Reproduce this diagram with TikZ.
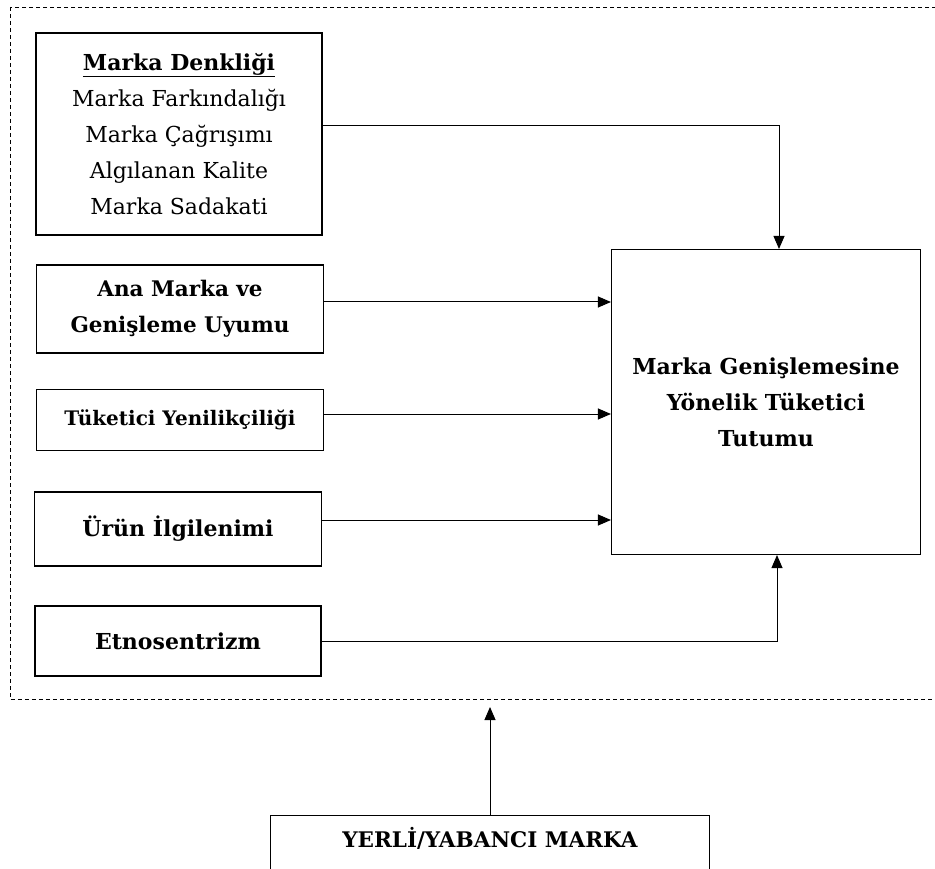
\documentclass[tikz,border=0pt]{standalone}
\usepackage{fontspec}
\setmainfont{DejaVu Serif}
\usetikzlibrary{arrows.meta}

\tikzset{
  box/.style={draw, line width=1.1pt, align=center, inner sep=4pt},
  arr/.style={line width=1pt, -{Triangle[length=13pt,width=11pt]}},
  txt/.style={font=\fontsize{22}{36}\selectfont},
  btxt/.style={font=\bfseries\fontsize{22}{36}\selectfont},
}

\begin{document}
\begin{tikzpicture}[x=1pt, y=-1pt]
  \useasboundingbox (0,0) rectangle (935,869);

  % Dashed frame round the factors (right side runs off the page)
  \coordinate (frameNW) at (10,7);
  \coordinate (frameSE) at (950,699);
  \draw[dashed, line width=0.9pt, dash pattern=on 4pt off 3pt] (frameNW) rectangle (frameSE);

  % Factors on the left
  \node[box, txt, minimum width=286pt, minimum height=202pt] (denk) at (179,134)
    {\textbf{\underline{Marka Denkliği}}\\Marka Farkındalığı\\Marka Çağrışımı\\Algılanan Kalite\\Marka Sadakati};
  \node[box, btxt, font=\bfseries\fontsize{21.5}{36}\selectfont, minimum width=287pt, minimum height=88pt] (uyum) at (180,309)
    {Ana Marka ve\\Genişleme Uyumu};
  \node[box, font=\bfseries\fontsize{20}{30}\selectfont, minimum width=287pt, minimum height=61pt] (yeni) at (180,420)
    {Tüketici Yenilikçiliği};
  \node[box, btxt, minimum width=287pt, minimum height=74pt] (ilgi) at (178,529)
    {Ürün İlgilenimi};
  \node[box, btxt, minimum width=286pt, minimum height=70pt] (etno) at (178,641)
    {Etnosentrizm};

  % Outcome
  \node[box, btxt, minimum width=309pt, minimum height=305pt] (tutum) at (766,402)
    {Marka Genişlemesine\\Yönelik Tüketici\\Tutumu};

  % Moderator at the bottom (runs off the page)
  \node[box, font=\bfseries\fontsize{21.5}{30}\selectfont, minimum width=439pt,
        text height=16pt, text depth=40pt, inner ysep=16pt, anchor=north] (yerli) at (490,815)
    {YERLİ/YABANCI MARKA};

  % Connectors
  \draw[arr] ([yshift=8pt]denk.east) -| ([xshift=13pt]tutum.north);
  \draw[arr] ([yshift=7pt]uyum.east) -- ([yshift=7pt]uyum.east -| tutum.west);
  \draw[arr] ([yshift=6pt]yeni.east) -- ([yshift=6pt]yeni.east -| tutum.west);
  \draw[arr] ([yshift=9pt]ilgi.east) -- ([yshift=9pt]ilgi.east -| tutum.west);
  \draw[arr] (etno.east) -| ([xshift=11pt]tutum.south);
  \draw[arr] (yerli.north) -- ([yshift=-8pt]yerli.north |- frameSE);
\end{tikzpicture}
\end{document}
